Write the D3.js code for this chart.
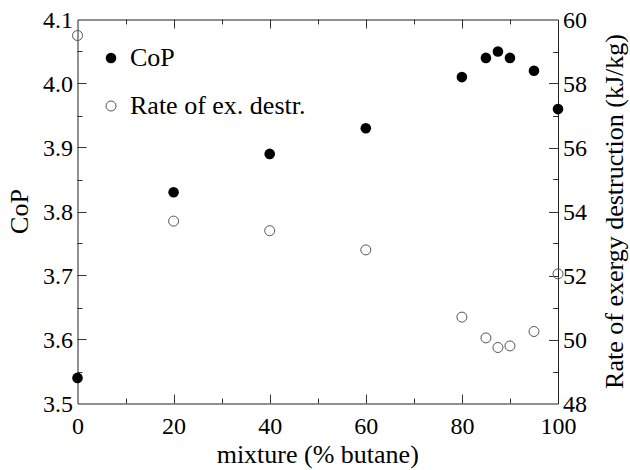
<!DOCTYPE html>
<html>
<head>
<meta charset="utf-8">
<script src="https://cdn.jsdelivr.net/npm/d3@7"></script>
<style>
body { margin: 0; background: #fff; }
</style>
</head>
<body>
<div class="chart"></div>
<script>
// data
var butane = [0, 20, 40, 60, 80, 85, 87.5, 90, 95, 100];
var cop = [3.54, 3.83, 3.89, 3.93, 4.01, 4.04, 4.05, 4.04, 4.02, 3.96];
var exergy = [59.5, 53.7, 53.4, 52.8, 50.7, 50.05, 49.75, 49.8, 50.25, 52.05];
var xTicks = [0, 20, 40, 60, 80, 100];
var leftTicks = [3.5, 3.6, 3.7, 3.8, 3.9, 4.0, 4.1];
var rightTicks = [48, 50, 52, 54, 56, 58, 60];
var legendNames = ["CoP", "Rate of ex. destr."];

var width = 630;
var height = 470;
var padding = { "left": 77.5, "right": 72, "top": 19.5, "bottom": 66.5 };
var serif = "'Liberation Serif', 'Times New Roman', serif";
var tickFont = 24;
var titleFont = 26;

var svg = d3.select(".chart")
    .append("svg")
    .attr("width", width)
    .attr("height", height)
    .attr("font-family", serif);

var x = d3.scaleLinear().domain([0, 100]).range([padding.left, width - padding.right]);
var yL = d3.scaleLinear().domain([3.5, 4.1]).range([height - padding.bottom, padding.top]);
var yR = d3.scaleLinear().domain([48, 60]).range([height - padding.bottom, padding.top]);

var x0 = x.range()[0], x1 = x.range()[1];
var yb = yL.range()[0], yt = yL.range()[1];

// minor ticks
var xMinor = d3.range(10, 100, 20);
var lMinor = d3.range(3.55, 4.1, 0.1);
var rMinor = d3.range(49, 60, 2);

// bottom axis
var gB = svg.append("g").attr("transform", "translate(0," + yb + ")")
    .call(d3.axisBottom(x).tickValues(xTicks).tickSize(0));
// top axis
var gT = svg.append("g").attr("transform", "translate(0," + yt + ")")
    .call(d3.axisTop(x).tickValues(xTicks).tickSize(0).tickFormat(""));
// left axis
var gL = svg.append("g").attr("transform", "translate(" + x0 + ",0)")
    .call(d3.axisLeft(yL).tickValues(leftTicks).tickSize(0).tickPadding(4.5).tickFormat(d3.format(".1f")));
// right axis
var gR = svg.append("g").attr("transform", "translate(" + x1 + ",0)")
    .call(d3.axisRight(yR).tickValues(rightTicks).tickSize(0).tickPadding(5).tickFormat(d3.format("d")));

[gB, gT, gL, gR].forEach(function (g) {
    g.attr("font-family", serif).attr("font-size", tickFont);
    g.select(".domain").attr("stroke", "#222").attr("stroke-width", 1);
    g.selectAll("text").attr("fill", "#000");
});
gB.selectAll("text").attr("y", 30).attr("dy", 0);

// inward tick marks
function vTicks(vals, len, y0, dir) {
    svg.append("g").selectAll("line").data(vals).enter().append("line")
        .attr("x1", function (d) { return Math.round(x(d)) + 0.5; })
        .attr("x2", function (d) { return Math.round(x(d)) + 0.5; })
        .attr("y1", y0)
        .attr("y2", y0 + dir * len)
        .attr("stroke", "#333");
}
function hTicks(scale, vals, len, xx, dir) {
    svg.append("g").selectAll("line").data(vals).enter().append("line")
        .attr("y1", function (d) { return Math.round(scale(d)) + 0.5; })
        .attr("y2", function (d) { return Math.round(scale(d)) + 0.5; })
        .attr("x1", xx)
        .attr("x2", xx + dir * len)
        .attr("stroke", "#333");
}
vTicks(xTicks.slice(1, -1), 9, yb, -1);
vTicks(xMinor, 5, yb, -1);
vTicks(xTicks.slice(1, -1), 9, yt, 1);
vTicks(xMinor, 5, yt, 1);
hTicks(yL, leftTicks.slice(1, -1), 9, x0, 1);
hTicks(yL, lMinor, 5, x0, 1);
hTicks(yR, rightTicks.slice(1, -1), 9, x1, -1);
hTicks(yR, rMinor, 5, x1, -1);

// axis titles
svg.append("text")
    .attr("x", (x0 + x1) / 2)
    .attr("y", 463)
    .attr("text-anchor", "middle")
    .attr("font-size", titleFont)
    .text("mixture (% butane)");
svg.append("text")
    .attr("transform", "translate(28," + ((yb + yt) / 2) + ") rotate(-90)")
    .attr("text-anchor", "middle")
    .attr("font-size", titleFont)
    .text("CoP");
svg.append("text")
    .attr("transform", "translate(623," + ((yb + yt) / 2) + ") rotate(-90)")
    .attr("text-anchor", "middle")
    .attr("font-size", titleFont)
    .text("Rate of exergy destruction (kJ/kg)");

// markers
var pts = butane.map(function (d, i) { return { x: d, c: cop[i], e: exergy[i] }; });
svg.append("g").selectAll("circle").data(pts).enter().append("circle")
    .attr("cx", function (d) { return x(d.x); })
    .attr("cy", function (d) { return yR(d.e); })
    .attr("r", 5)
    .attr("fill", "none")
    .attr("stroke", "#555")
    .attr("stroke-width", 1);
svg.append("g").selectAll("circle").data(pts).enter().append("circle")
    .attr("cx", function (d) { return x(d.x); })
    .attr("cy", function (d) { return yL(d.c); })
    .attr("r", 5.3)
    .attr("fill", "#000");

// legend
var leg = svg.append("g").selectAll("g").data(legendNames).enter().append("g")
    .attr("transform", function (d, i) { return "translate(111," + (58 + i * 48) + ")"; });
leg.append("circle")
    .attr("r", function (d, i) { return i == 0 ? 5.3 : 5; })
    .attr("fill", function (d, i) { return i == 0 ? "#000" : "none"; })
    .attr("stroke", function (d, i) { return i == 0 ? "none" : "#555"; });
leg.append("text")
    .attr("x", 19)
    .attr("y", 8)
    .attr("font-size", titleFont)
    .text(function (d) { return d; });
</script>
</body>
</html>
